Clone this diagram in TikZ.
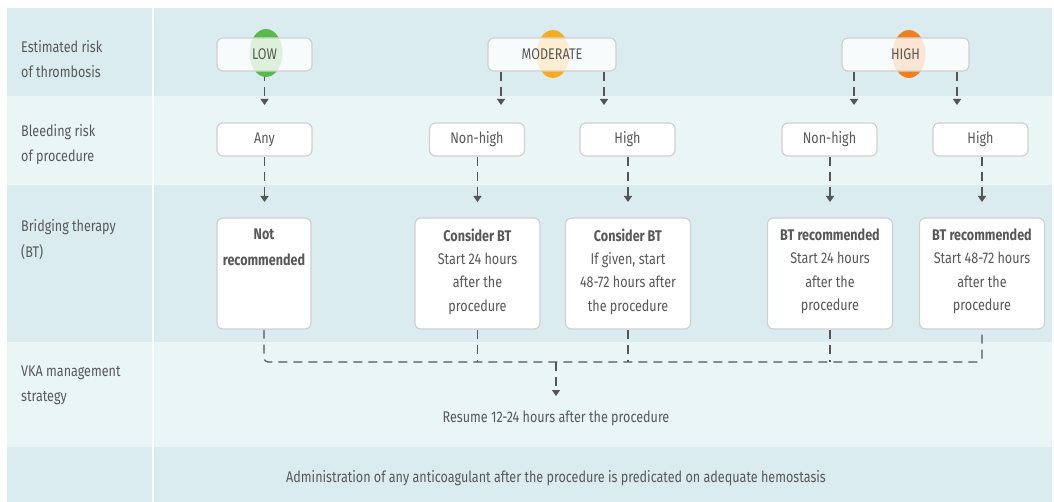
\documentclass[tikz,border=0pt]{standalone}
\usepackage{fontspec}
\setmainfont{Fira Sans}[FakeStretch=0.815]
\usetikzlibrary{shapes.geometric,arrows.meta}
\definecolor{banddark}{RGB}{218,236,239}
\definecolor{bandlight}{RGB}{234,245,246}
\definecolor{txt}{RGB}{88,88,88}
\definecolor{boxline}{RGB}{208,208,208}
\definecolor{lowc}{RGB}{88,186,72}
\definecolor{modc}{RGB}{246,172,30}
\definecolor{highc}{RGB}{240,128,30}
\definecolor{connc}{RGB}{85,85,85}
\pgfdeclarelayer{bands}\pgfdeclarelayer{lines}\pgfdeclarelayer{blobs}
\pgfsetlayers{bands,lines,blobs,main}
\newcommand{\bttext}[2][120bp]{\parbox[c][90bp][t]{#1}{\centering\fontsize{15.5}{23.5}\selectfont #2}}
\begin{document}
\begin{tikzpicture}[x=1bp,y=-1bp,
  font=\fontsize{15.5}{25.5}\selectfont, text=txt,
  rowlabel/.style={anchor=west, align=left, inner sep=0},
  riskbox/.style={draw=boxline, line width=1.2bp, rounded corners=6bp, fill=white,
     fill opacity=0.8, text opacity=1, minimum height=33bp, inner sep=0},
  bleedbox/.style={draw=boxline, line width=1.2bp, rounded corners=6bp, fill=white,
     minimum height=33bp, minimum width=95bp, inner sep=0},
  btbox/.style={draw=boxline, line width=1.2bp, rounded corners=6bp, fill=white,
     minimum height=111bp, minimum width=125bp, inner sep=0},
  blob/.style={ellipse, minimum width=33bp, minimum height=48bp, inner sep=0},
  conn/.style={draw=connc, line width=1.2bp, dash pattern=on 9bp off 6bp,
     -{Triangle[length=6bp,width=8bp]}},
  dline/.style={draw=connc, line width=1.2bp, dash pattern=on 9bp off 6bp}
]
\useasboundingbox (0,0) rectangle (1054,502);
\begin{pgfonlayer}{bands}
  \fill[white] (0,0) rectangle (1054,502);
  \fill[banddark]  (7,8)   rectangle (1052,96);
  \fill[bandlight] (7,96)  rectangle (1052,185);
  \fill[banddark]  (7,185) rectangle (1052,342);
  \fill[bandlight] (7,342) rectangle (1052,447);
  \fill[banddark]  (7,447) rectangle (1052,502);
  \fill[white] (152,8) rectangle (154,502);
\end{pgfonlayer}

% row labels
\node[rowlabel] (l1) at (21,59)    {Estimated risk\\of thrombosis};
\node[rowlabel] (l2) at (21,144.5) {Bleeding risk\\of procedure};
\node[rowlabel] (l3) at (21,239.5) {Bridging therapy\\(BT)};
\node[rowlabel] (l4) at (21,385.5) {VKA management\\strategy};

% risk of thrombosis
\begin{pgfonlayer}{blobs}
  \node[blob, fill=lowc]  (elow)  at (266,53) {};
  \node[blob, fill=modc]  (emod)  at (553,54) {};
  \node[blob, fill=highc] (ehigh) at (909,54) {};
\end{pgfonlayer}
\node[riskbox, minimum width=95bp]  (low)  at (264.5,54.5) {LOW};
\node[riskbox, minimum width=128bp] (mod)  at (552,54.5)   {MODERATE};
\node[riskbox, minimum width=127bp] (high) at (905.5,54.5) {HIGH};

% bleeding risk
\node[bleedbox] (any) at (264.5,139.5) {Any};
\node[bleedbox] (nh1) at (477,139.5)   {Non-high};
\node[bleedbox] (h1)  at (627.5,139.5) {High};
\node[bleedbox] (nh2) at (829.5,139.5) {Non-high};
\node[bleedbox] (h2)  at (980.5,139.5) {High};

% bridging therapy
\node[btbox, minimum width=94bp] (nr) at (264,273.5)
  {\bttext[90bp]{\textbf{Not}\\[3bp]\textbf{recommended}}};
\node[btbox] (c1) at (477.5,273.5)
  {\bttext{\textbf{Consider BT}\\Start 24 hours\\after the\\procedure}};
\node[btbox] (c2) at (628,273.5)
  {\bttext{\textbf{Consider BT}\\If given, start\\48-72 hours after\\the procedure}};
\node[btbox] (b1) at (830,273.5)
  {\bttext{\textbf{BT recommended}\\Start 24 hours\\after the\\procedure}};
\node[btbox] (b2) at (982,273.5)
  {\bttext{\textbf{BT recommended}\\Start 48-72 hours\\after the\\procedure}};

% VKA management and footer
\node (res) at (556,418) {Resume 12-24 hours after the procedure};
\node (adm) at (556,478) {Administration of any anticoagulant after the procedure is predicated on adequate hemostasis};

% arrow ends
\coordinate (tlow) at (264.5,105);
\coordinate (tm1) at (501,105);
\coordinate (tm2) at (604,105);
\coordinate (th1) at (854,105);
\coordinate (th2) at (957,105);
\coordinate (ta) at (264.5,202);
\coordinate (tb) at (477.5,202);
\coordinate (tc) at (628,202);
\coordinate (td) at (830,202);
\coordinate (te) at (982,202);
\coordinate (j) at (556,362);
\coordinate (tr) at (556,396);

\begin{pgfonlayer}{lines}
  \draw[conn] (low.south) -- (tlow);
  \draw[conn] (mod.south -| tm1) -- (tm1);
  \draw[conn] (mod.south -| tm2) -- (tm2);
  \draw[conn] (high.south -| th1) -- (th1);
  \draw[conn] (high.south -| th2) -- (th2);
  \draw[conn] (any.south) -- (ta);
  \draw[conn] (nh1.south -| tb) -- (tb);
  \draw[conn] (h1.south -| tc) -- (tc);
  \draw[conn] (nh2.south -| td) -- (td);
  \draw[conn] (h2.south -| te) -- (te);
  \draw[dline, rounded corners=4bp] (nr.south) |- (j) -| (b2.south);
  \draw[dline] (c1.south) -- (c1.south |- j);
  \draw[dline] (c2.south) -- (c2.south |- j);
  \draw[dline] (b1.south) -- (b1.south |- j);
  \draw[conn] (j) -- (tr);
\end{pgfonlayer}
\end{tikzpicture}
\end{document}
